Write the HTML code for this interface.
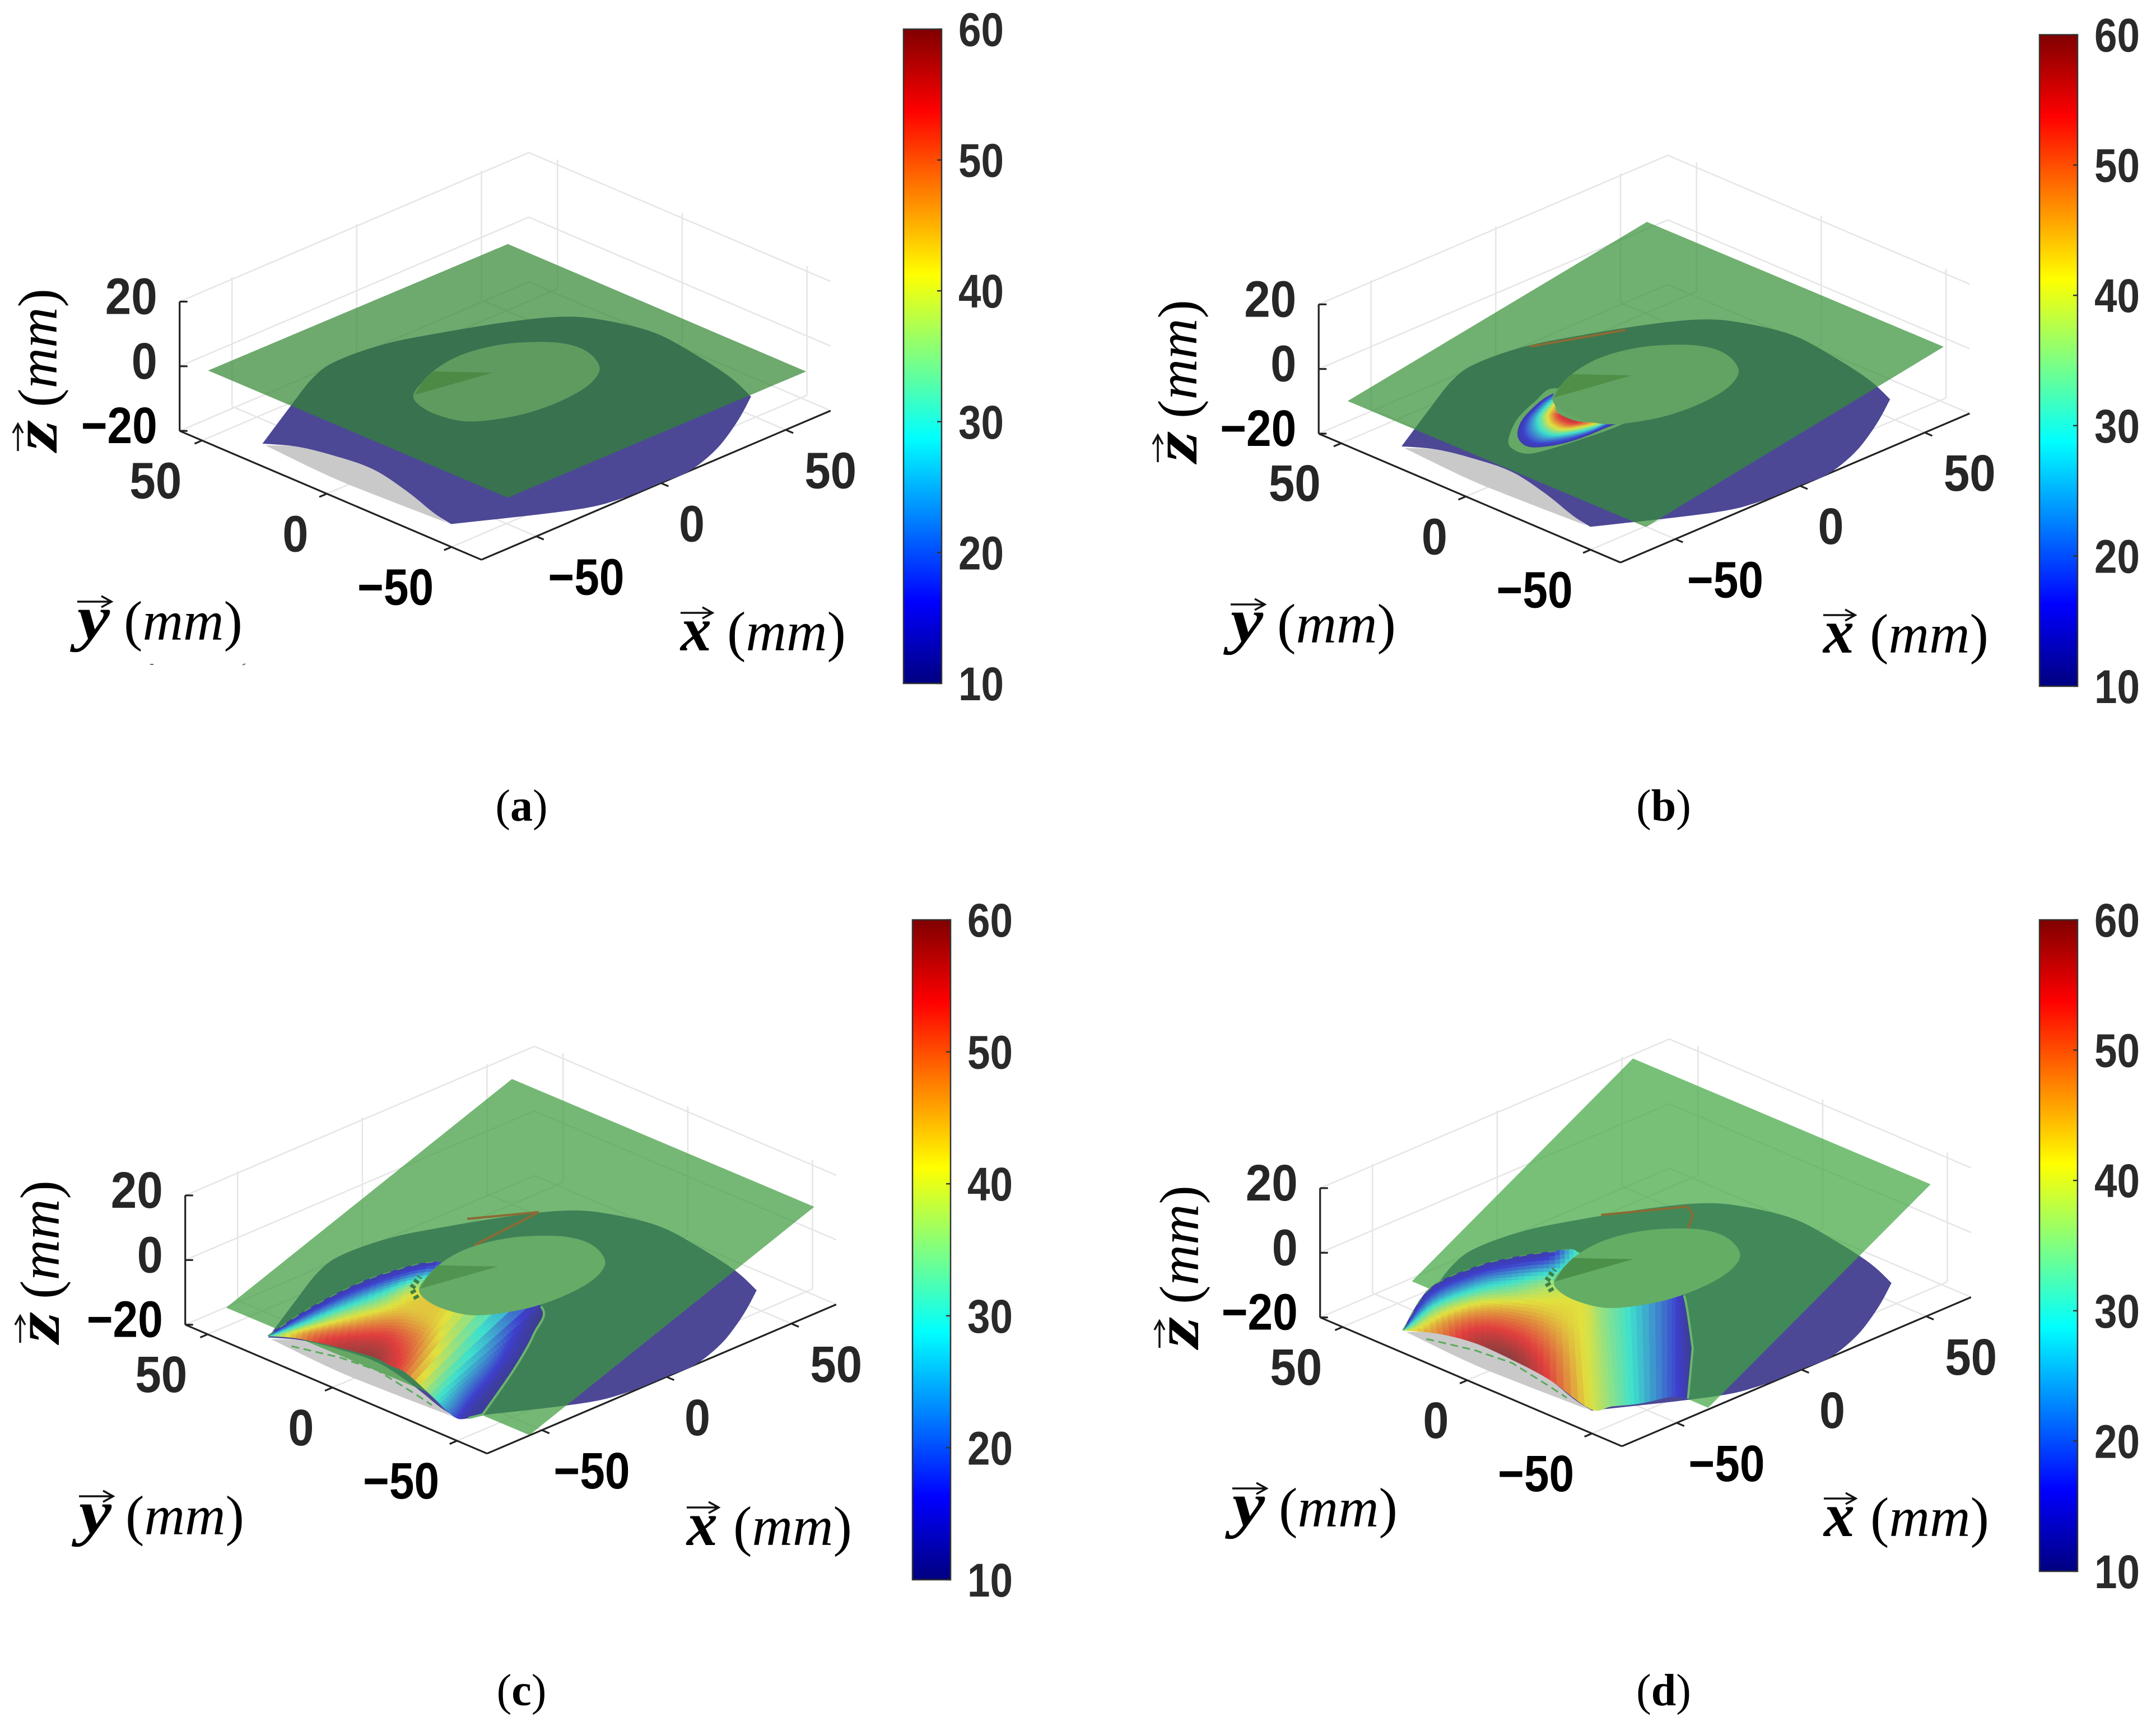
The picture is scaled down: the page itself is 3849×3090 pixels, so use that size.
<!DOCTYPE html>
<html lang="en">
<head>
<meta charset="utf-8">
<title>Temperature field on lens surface, panels a to d</title>
<style>
html,body{margin:0;padding:0;background:#fff}
svg{display:block}
.math{font-family:"Liberation Serif",serif}
</style>
</head>
<body>
<svg id="figure" xmlns="http://www.w3.org/2000/svg" width="3849" height="3090" viewBox="0 0 3849 3090">
<defs><linearGradient id="jetBar" x1="0" y1="1" x2="0" y2="0"></linearGradient></defs>
<rect x="0" y="0" width="3849" height="3090" fill="#fff"/>
<g id="plots"></g>

<g class="math">
  <g transform="translate(0,0)">
    <path d="M138 1074H197M181 1064L199 1074L181 1084" fill="none" stroke="#111" stroke-width="3.5"/>
    <text x="138" y="1140" font-size="112" font-weight="bold" font-style="italic" textLength="58" lengthAdjust="spacingAndGlyphs">y</text>
    <text x="221" y="1142" font-size="100" textLength="212" lengthAdjust="spacingAndGlyphs">(<tspan font-style="italic">mm</tspan>)</text>
    <path d="M268 1186h6M433 1187l5-2" fill="none" stroke="#666" stroke-width="2"/>
  </g>
  <g transform="translate(0,0)">
    <path d="M1215 1094H1270M1254 1084L1272 1094L1254 1104" fill="none" stroke="#111" stroke-width="3.5"/>
    <text x="1215" y="1161" font-size="112" font-weight="bold" font-style="italic" textLength="55" lengthAdjust="spacingAndGlyphs">x</text>
    <text x="1298" y="1161" font-size="100" textLength="212" lengthAdjust="spacingAndGlyphs">(<tspan font-style="italic">mm</tspan>)</text>
  </g>
  <g transform="translate(101,805) rotate(-90)">
    <path d="M0 -69H46M32 -78L48 -69L32 -60" fill="none" stroke="#111" stroke-width="3.5"/>
    <text x="0" y="0" font-size="112" font-weight="bold" font-style="italic" textLength="55" lengthAdjust="spacingAndGlyphs">z</text>
    <text x="78" y="0" font-size="100" textLength="212" lengthAdjust="spacingAndGlyphs">(<tspan font-style="italic">mm</tspan>)</text>
  </g>
  <text x="931" y="1465" font-size="80" text-anchor="middle">(<tspan font-weight="bold">a</tspan>)</text>
</g>

<g class="math">
  <g transform="translate(2059,5)">
    <path d="M138 1074H197M181 1064L199 1074L181 1084" fill="none" stroke="#111" stroke-width="3.5"/>
    <text x="138" y="1140" font-size="112" font-weight="bold" font-style="italic" textLength="58" lengthAdjust="spacingAndGlyphs">y</text>
    <text x="221" y="1142" font-size="100" textLength="212" lengthAdjust="spacingAndGlyphs">(<tspan font-style="italic">mm</tspan>)</text>
  </g>
  <g transform="translate(2040,4)">
    <path d="M1215 1094H1270M1254 1084L1272 1094L1254 1104" fill="none" stroke="#111" stroke-width="3.5"/>
    <text x="1215" y="1161" font-size="112" font-weight="bold" font-style="italic" textLength="55" lengthAdjust="spacingAndGlyphs">x</text>
    <text x="1298" y="1161" font-size="100" textLength="212" lengthAdjust="spacingAndGlyphs">(<tspan font-style="italic">mm</tspan>)</text>
  </g>
  <g transform="translate(2136,825) rotate(-90)">
    <path d="M0 -69H46M32 -78L48 -69L32 -60" fill="none" stroke="#111" stroke-width="3.5"/>
    <text x="0" y="0" font-size="112" font-weight="bold" font-style="italic" textLength="55" lengthAdjust="spacingAndGlyphs">z</text>
    <text x="78" y="0" font-size="100" textLength="212" lengthAdjust="spacingAndGlyphs">(<tspan font-style="italic">mm</tspan>)</text>
  </g>
  <text x="2970" y="1465" font-size="80" text-anchor="middle">(<tspan font-weight="bold">b</tspan>)</text>
</g>

<g class="math">
  <g transform="translate(3,1597)">
    <path d="M138 1074H197M181 1064L199 1074L181 1084" fill="none" stroke="#111" stroke-width="3.5"/>
    <text x="138" y="1140" font-size="112" font-weight="bold" font-style="italic" textLength="58" lengthAdjust="spacingAndGlyphs">y</text>
    <text x="221" y="1142" font-size="100" textLength="212" lengthAdjust="spacingAndGlyphs">(<tspan font-style="italic">mm</tspan>)</text>
  </g>
  <g transform="translate(11,1597)">
    <path d="M1215 1094H1270M1254 1084L1272 1094L1254 1104" fill="none" stroke="#111" stroke-width="3.5"/>
    <text x="1215" y="1161" font-size="112" font-weight="bold" font-style="italic" textLength="55" lengthAdjust="spacingAndGlyphs">x</text>
    <text x="1298" y="1161" font-size="100" textLength="212" lengthAdjust="spacingAndGlyphs">(<tspan font-style="italic">mm</tspan>)</text>
  </g>
  <g transform="translate(105,2397) rotate(-90)">
    <path d="M0 -69H46M32 -78L48 -69L32 -60" fill="none" stroke="#111" stroke-width="3.5"/>
    <text x="0" y="0" font-size="112" font-weight="bold" font-style="italic" textLength="55" lengthAdjust="spacingAndGlyphs">z</text>
    <text x="78" y="0" font-size="100" textLength="212" lengthAdjust="spacingAndGlyphs">(<tspan font-style="italic">mm</tspan>)</text>
  </g>
  <text x="931" y="3044" font-size="80" text-anchor="middle">(<tspan font-weight="bold">c</tspan>)</text>
</g>

<g class="math">
  <g transform="translate(2062,1583)">
    <path d="M138 1074H197M181 1064L199 1074L181 1084" fill="none" stroke="#111" stroke-width="3.5"/>
    <text x="138" y="1140" font-size="112" font-weight="bold" font-style="italic" textLength="58" lengthAdjust="spacingAndGlyphs">y</text>
    <text x="221" y="1142" font-size="100" textLength="212" lengthAdjust="spacingAndGlyphs">(<tspan font-style="italic">mm</tspan>)</text>
  </g>
  <g transform="translate(2041,1581)">
    <path d="M1215 1094H1270M1254 1084L1272 1094L1254 1104" fill="none" stroke="#111" stroke-width="3.5"/>
    <text x="1215" y="1161" font-size="112" font-weight="bold" font-style="italic" textLength="55" lengthAdjust="spacingAndGlyphs">x</text>
    <text x="1298" y="1161" font-size="100" textLength="212" lengthAdjust="spacingAndGlyphs">(<tspan font-style="italic">mm</tspan>)</text>
  </g>
  <g transform="translate(2139,2406) rotate(-90)">
    <path d="M0 -69H46M32 -78L48 -69L32 -60" fill="none" stroke="#111" stroke-width="3.5"/>
    <text x="0" y="0" font-size="112" font-weight="bold" font-style="italic" textLength="55" lengthAdjust="spacingAndGlyphs">z</text>
    <text x="78" y="0" font-size="100" textLength="212" lengthAdjust="spacingAndGlyphs">(<tspan font-style="italic">mm</tspan>)</text>
  </g>
  <text x="2970" y="3044" font-size="80" text-anchor="middle">(<tspan font-weight="bold">d</tspan>)</text>
</g>
</svg>

<script>
/* Axis values */
const xTicks = [-50, 0, 50];
const yTicks = [-50, 0, 50];
const zTicks = [-20, 0, 20];
const colorTicks = [10, 20, 30, 40, 50, 60];
const xRange = [-72, 68];
const yRange = [-62, 59];
const zRange = [-20, 20];
const colorRange = [10, 60];

/* Lens surface footprint, mm (shared by all panels) */
const surfaceX = [-61.4,-39.1,-19.9,-7.3,10.2,26.5,45.5,58.9,65.3,69.3,67.2,63.6,58.7,44.2,27,11.1,0.4,-15.8,-30.6,-61.3,-59.6,-54.7,-51.2,-52.9,-56];
const surfaceY = [36.4,47.9,57.4,60.4,58.6,52.7,44.1,35.4,25.3,9.9,-8.8,-26.1,-39.4,-48.4,-57.2,-62.1,-61.8,-61.3,-56.9,-39.2,-30.6,-14.6,2.7,17.5,28.4];
const surfaceCorners = [0, 12, 19];
const shadowX = [-61.6,-63.3,-62.7,-61.5,-59.6,-54.7,-51.2,-52.9,-56];
const shadowY = [35,7.1,-14.4,-38,-30.6,-14.6,2.7,17.5,28.4];
const shadowCorners = [0, 3];
const seamX = [-60.8,-56.4,-54.9,-58.4,-60.3];
const seamY = [27.6,12.7,-0.9,-19.5,-28.2];

/* Small central cap and its wedge, mm */
const capX = [-8.2,-0.9,7.4,17.5,27.5,37,45.3,47.1,42.6,35,24.8,12,0.7,-9.7,-12.8,-11.8];
const capY = [29.1,33.1,36.4,38.2,37.1,32.8,24.5,15.4,5.3,-0.1,-2.9,-3.2,-0.7,5.5,14.9,23.3];
const wedgeX = [18.1,6.6,-0.9,-8];
const wedgeY = [23.6,36.2,33.1,28.8];

/* Tilted green plane corners per panel, mm */
const planeXa = [60.3,60.1,-59.7,-59.8];
const planeYa = [59.7,-60.1,-60.3,59.8];
const planeZa = [-6,-5.9,-5.4,-5.6];
const planeXb = [60.3,59.8,-59.9,-59.7];
const planeYb = [59.7,-59.8,-60.1,59.7];
const planeZb = [1.7,2.6,-13.6,-14.2];
const planeXc = [60,60.6,-56.5,-57.3];
const planeYc = [60,-60.6,-63.5,57.3];
const planeZc = [12.2,12.2,-18.9,-19];
const planeXd = [57.2,56.9,-47.7,-47.1];
const planeYd = [62.8,-56.9,-72.3,47.1];
const planeZd = [16.3,16.9,-12.7,-13.1];

/* Brown intersection trace, mm */
const traceXb = [11.2,38.2];
const traceYb = [57.6,46.2];
const traceXc = [34.2,51.7,23.1];
const traceYc = [52.2,41,38.3];
const traceXd = [32.5,53.7,50.9,42.5];
const traceYd = [50.8,37.4,32.4,26.2];

/* Panel b heat crescent, mm and degrees C */
const haloXb = [-3.2,-13.7,-26,-37.4,-40.4,-39.3,-31.8,-21.3,-11.9,-2.9,-3];
const haloYb = [32.9,30.7,25.7,17.6,12.3,7.4,5.2,3.6,2.6,2.6,16];
const heatLowXb = [-6.3,-12.6,-23.8,-31.8,-35.5,-35.3,-28.8,-20.5,-11.5,-5.3];
const heatLowYb = [30.7,29.6,25.1,19.4,14.1,9.7,5.9,4.4,4.3,3.9];
const heatUpXb = [-6.3,-10.5,-14.1,-14.7,-14.9,-14.5,-12.4,-10.2,-7.2,-5.3];
const heatUpYb = [30.7,26,21.7,19.6,17.2,13,9.5,7.2,5.8,3.9];
const heatTb = [
  [13,13,13,13,13],
  [13,18,24,30,38],
  [13,20,29,40,48],
  [13,20,29,42,54],
  [13,20,30,44,56],
  [13,20,30,44,56],
  [13,18,26,36,46],
  [13,16,22,28,36],
  [13,14,15,17,20],
  [13,13,13,13,13]
];

/* Panel c heat patch, mm and degrees C */
const heatLowXc = [-60.6,-56,-52.5,-49.4,-49.9,-50.3,-56.5,-60.2,-61.3,-59];
const heatLowYc = [37.2,30.5,20.2,6.7,-0.7,-8,-25.3,-34.6,-39.7,-41.6];
const heatUpXc = [-60.6,-42.4,-23.7,-7.6,8,9.2,7.9,-6.5,-27.6,-54.6];
const heatUpYc = [37.2,41.3,43.5,43,37.8,21,-3.7,-15.3,-28.2,-42.8];
const heatTc = [
  [30,28,24,18,13],
  [46,42,30,20,13],
  [56,50,38,24,13],
  [59,54,44,30,13],
  [56,52,44,40,15],
  [50,46,41,40,38],
  [31,27,23,17,12],
  [22,19,17,14,12],
  [16,14,13,12,12],
  [12,12,12,12,12]
];

/* Panel d heat patch, mm and degrees C */
const heatLowXd = [-61.4,-55.9,-52.9,-53.3,-55.2,-60.7,-55.2,-48.3,-38.6,-36.5,-36.5];
const heatLowYd = [36.4,27.9,16.1,0.6,-16.4,-38.2,-41.1,-45.4,-48.7,-53,-53];
const heatUpXd = [-61.4,-36.4,-17.4,-5.4,4.8,10.4,-1.9,7.5,12.2,11.4,-11.6];
const heatUpYd = [36.4,50.6,51.6,48.6,43.7,38,16.1,12,2,-3.5,-30];
const heatTd = [
  [40,34,28,20,13],
  [48,44,35,22,13],
  [57,52,42,26,13],
  [60,54,45,30,13],
  [53,50,44,36,14],
  [41,41,41,40,30],
  [35,35,35,35,35],
  [27,27,27,27,27],
  [18,18,18,18,18],
  [13,13,13,13,13],
  [12,12,12,12,12]
];

const NS = 'http://www.w3.org/2000/svg';
const root = document.getElementById('plots');

function node(tag, attrs, parent) {
  const e = document.createElementNS(NS, tag);
  for (const k in attrs) e.setAttribute(k, attrs[k]);
  parent.appendChild(e);
  return e;
}
function clamp01(v) { return Math.max(0, Math.min(1, v)); }
function jet(T) {
  const t = clamp01((T - colorRange[0]) / (colorRange[1] - colorRange[0]));
  return [clamp01(1.5 - Math.abs(4 * t - 3)), clamp01(1.5 - Math.abs(4 * t - 2)), clamp01(1.5 - Math.abs(4 * t - 1))];
}
function jetCss(T) {
  const c = jet(T);
  return 'rgb(' + Math.round(c[0] * 255) + ',' + Math.round(c[1] * 255) + ',' + Math.round(c[2] * 255) + ')';
}
function litCss(T) {
  const c = jet(T);
  return 'rgb(' + Math.round(62 + c[0] * 163) + ',' + Math.round(62 + c[1] * 163) + ',' + Math.round(62 + c[2] * 143) + ')';
}
function spline(p0, p1, p2, p3, t) {
  return 0.5 * (2 * p1 + (p2 - p0) * t + (2 * p0 - 5 * p1 + 4 * p2 - p3) * t * t + (3 * p1 - p0 - 3 * p2 + p3) * t * t * t);
}
function sample(a, s) {
  const n = a.length, i = Math.min(Math.floor(s), n - 2), f = s - i;
  return spline(a[Math.max(i - 1, 0)], a[i], a[i + 1], a[Math.min(i + 2, n - 1)], f);
}
function smoothLoop(xs, ys, corners) {
  const N = xs.length, outX = [], outY = [], steps = 6;
  for (let i = 0; i < N; i++) {
    const b = i, c = (i + 1) % N;
    const a = corners.includes(b) ? b : (i - 1 + N) % N;
    const d = corners.includes(c) ? c : (i + 2) % N;
    for (let k = 0; k < steps; k++) {
      outX.push(spline(xs[a], xs[b], xs[c], xs[d], k / steps));
      outY.push(spline(ys[a], ys[b], ys[c], ys[d], k / steps));
    }
  }
  return { x: outX, y: outY };
}

/* Colour bar gradient */
const gradient = document.getElementById('jetBar');
for (let i = 0; i <= 32; i++) {
  const T = colorRange[0] + (colorRange[1] - colorRange[0]) * i / 32;
  node('stop', { offset: (i / 32), 'stop-color': jetCss(T) }, gradient);
}

function drawPanel(cfg) {
  const g = node('g', {}, root);
  
  

  /* axis functions: mm to pixels */
  const px = (x, y) => cfg.ox + 4.4526 * (x - y);
  const py = (x, y, z) => cfg.oy - 1.9008 * (x + y) - 5.77 * (z - zRange[0]);
  const zf = zRange[0];
  const pts = (xs, ys, zs) => xs.map((x, i) => px(x, ys[i]).toFixed(1) + ',' + py(x, ys[i], zs ? zs[i] : zf).toFixed(1)).join(' ');
  const xWall = xRange[1] + 2.5, yWall = yRange[1] + 1;

  const gridGroup = node('g', { stroke: '#e6e6e6', 'stroke-width': 2.6, fill: 'none' }, g);
  
  
  const seg = (parent, x1, y1, z1, x2, y2, z2) => node('line', { x1: px(x1, y1), y1: py(x1, y1, z1), x2: px(x2, y2), y2: py(x2, y2, z2) }, parent);
  zTicks.forEach(z => {
    seg(gridGroup, xRange[0], yRange[1], z, xRange[1], yRange[1], z);
    seg(gridGroup, xRange[1], yRange[1], z, xRange[1], yRange[0], z);
  });
  xTicks.forEach(x => {
    seg(gridGroup, x, yWall, zRange[0], x, yWall, zRange[1]);
    seg(gridGroup, x, yRange[0], zRange[0], x, yWall, zRange[0]);
  });
  yTicks.forEach(y => {
    seg(gridGroup, xWall, y, zRange[0], xWall, y, zRange[1]);
    seg(gridGroup, xRange[0], y, zRange[0], xWall, y, zRange[0]);
  });

  const axisGroup = node('g', { stroke: '#222', 'stroke-width': 3.2, fill: 'none' }, g);
  
  
  seg(axisGroup, xRange[0], yRange[0], zRange[0], xRange[1], yRange[0], zRange[0]);
  seg(axisGroup, xRange[0], yRange[0], zRange[0], xRange[0], yRange[1], zRange[0]);
  seg(axisGroup, xRange[0], yRange[1], zRange[0], xRange[0], yRange[1], zRange[1]);
  xTicks.forEach(x => seg(axisGroup, x, yRange[0], zRange[0], x, yRange[0] - 3, zRange[0]));
  yTicks.forEach(y => seg(axisGroup, xRange[0], y, zRange[0], xRange[0] - 3, y, zRange[0]));
  zTicks.forEach(z => node('line', { x1: px(xRange[0], yRange[1]), y1: py(xRange[0], yRange[1], z), x2: px(xRange[0], yRange[1]) + 14, y2: py(xRange[0], yRange[1], z) }, axisGroup));

  /* tick labels */
  const widths = { 1: 46, 2: 93, 3: 136 };
  const label = (x, y, str, anchor, name) => {
    const t = node('text', { x: x, y: y, 'font-family': '"Liberation Sans",sans-serif', 'font-weight': 'bold', 'font-size': 92, fill: str.length === 3 ? '#000' : '#262626', 'text-anchor': anchor, textLength: widths[str.length], lengthAdjust: 'spacingAndGlyphs' }, g);
    t.textContent = str;
    
    
  };
  const fmt = v => (v < 0 ? '\u2212' + (-v) : String(v));
  const xOff = { 1: 55, 2: 80, 3: 89 };
  const yOff = { 1: -56, 2: -83, 3: -100 };
  xTicks.forEach(v => label(px(v, yRange[0]) + xOff[fmt(v).length], py(v, yRange[0], zf) + 104, fmt(v), 'middle', 'x-tick-label'));
  yTicks.forEach(v => label(px(xRange[0], v) + yOff[fmt(v).length], py(xRange[0], v, zf) + 103, fmt(v), 'middle', 'y-tick-label'));
  zTicks.forEach(v => label(px(xRange[0], yRange[1]) - 40, py(xRange[0], yRange[1], v) + 22, fmt(v), 'end', 'z-tick-label'));

  /* surfaces */
  const shadowLine = smoothLoop(shadowX, shadowY, shadowCorners);
  const shadow = node('polygon', { points: pts(shadowLine.x, shadowLine.y), fill: '#c9c9c9' }, g);
  
  
  const surfaceLine = smoothLoop(surfaceX, surfaceY, surfaceCorners);
  const surface = node('polygon', { points: pts(surfaceLine.x, surfaceLine.y), fill: '#4c4896' }, g);
  
  
  const plane = node('polygon', { points: pts(cfg.planeX, cfg.planeY, cfg.planeZ), fill: cfg.planeFill, 'fill-opacity': 0.7 }, g);
  
  

  if (cfg.traceX) {
    const trace = node('polyline', { points: pts(cfg.traceX, cfg.traceY), fill: 'none', stroke: '#8c6a34', 'stroke-width': 4 }, g);
    
    
  }

  /* heat patch */
  if (cfg.haloX) {
    const haloLine = smoothLoop(cfg.haloX, cfg.haloY, [9, 10]);
    const halo = node('polygon', { points: pts(haloLine.x, haloLine.y), fill: '#66a866' }, g);
    
    
  }
  if (cfg.heatT) {
    const heat = node('g', {}, g);
    
    
    const rows = cfg.heatT.length, cols = cfg.heatT[0].length;
    const subS = cfg.subS, subT = 8;
    const nodeAt = (s, t) => {
      const i = Math.min(Math.floor(s), rows - 2), fs = s - i;
      const fr = t / (cols - 1);
      const lx = sample(cfg.lowX, s), ly = sample(cfg.lowY, s);
      const ux = sample(cfg.upX, s), uy = sample(cfg.upY, s);
      const rowAt = r => sample(cfg.heatT[r], t);
      const T = spline(rowAt(Math.max(i - 1, 0)), rowAt(i), rowAt(i + 1), rowAt(Math.min(i + 2, rows - 1)), fs);
      return { x: lx + (ux - lx) * fr, y: ly + (uy - ly) * fr, T: T };
    };
    for (let a = 0; a < (rows - 1) * subS; a++) {
      for (let b = 0; b < (cols - 1) * subT; b++) {
        const n = [nodeAt(a / subS, b / subT), nodeAt((a + 1) / subS, b / subT), nodeAt((a + 1) / subS, (b + 1) / subT), nodeAt(a / subS, (b + 1) / subT)];
        const Tm = (n[0].T + n[1].T + n[2].T + n[3].T) / 4;
        const col = litCss(Tm);
        const cell = node('polygon', { points: n.map(p => px(p.x, p.y).toFixed(1) + ',' + py(p.x, p.y, zf).toFixed(1)).join(' '), fill: col, stroke: col, 'stroke-width': 1.2 }, heat);
        
        
      }
    }
  }
  if (cfg.rimFrom !== undefined) {
    const rowsN = cfg.upX.length;
    const rimX = [], rimY = [], topX = [], topY = [];
    for (let s = cfg.rimFrom; s <= rowsN - 1 + 1e-6; s += 0.1) {
      rimX.push(sample(cfg.upX, s));
      rimY.push(sample(cfg.upY, s));
    }
    rimX.push(cfg.lowX[rowsN - 1]);
    rimY.push(cfg.lowY[rowsN - 1]);
    for (let s = 0; s <= cfg.topTo + 1e-6; s += 0.1) {
      topX.push(sample(cfg.upX, s));
      topY.push(sample(cfg.upY, s));
    }
    const rim = node('polyline', { points: pts(rimX, rimY), fill: 'none', stroke: '#6db56d', 'stroke-width': 4 }, g);
    
    
    const top = node('polyline', { points: pts(topX, topY), fill: 'none', stroke: '#559c5e', 'stroke-width': 2, 'stroke-dasharray': '14 12' }, g);
    
    
    const seam = node('polyline', { points: pts(seamX, seamY), fill: 'none', stroke: '#5cab5c', 'stroke-width': 3, 'stroke-dasharray': '14 8' }, g);
    
    
  }

  /* cap */
  const capLine = smoothLoop(capX, capY, []);
  if (cfg.rimFrom !== undefined) {
    const hatchX = [capX[15] - 1.5, capX[0] - 1.5, capX[1] - 1.5];
    const hatchY = [capY[15] + 1.5, capY[0] + 1.5, capY[1] + 1.5];
    const hatch = node('polyline', { points: pts(hatchX, hatchY), fill: 'none', stroke: '#3f8046', 'stroke-width': 10, 'stroke-dasharray': '6 5' }, g);
    
    
  }
  const cap = node('polygon', { points: pts(capLine.x, capLine.y), fill: cfg.capFill }, g);
  
  
  const wedge = node('polygon', { points: pts(wedgeX, wedgeY), fill: cfg.wedgeFill }, g);
  
  

  /* colour bar */
  const bar = cfg.bar;
  const barY = v => bar.bottom - (v - colorRange[0]) / (colorRange[1] - colorRange[0]) * (bar.bottom - bar.top);
  const cb = node('g', {}, g);
  
  
  const ramp = node('rect', { x: bar.x, y: bar.top, width: 68, height: bar.bottom - bar.top, fill: 'url(#jetBar)', stroke: '#333', 'stroke-width': 2.5 }, cb);
  
  
  colorTicks.forEach(v => {
    const tk = node('line', { x1: bar.x + 60, y1: barY(v), x2: bar.x + 68, y2: barY(v), stroke: '#333', 'stroke-width': 2.5 }, cb);
    
    
    const t = node('text', { x: bar.x + 98, y: barY(v) + 30, 'font-family': '"Liberation Sans",sans-serif', 'font-weight': 'bold', 'font-size': 84, fill: '#2a2a2a', textLength: 81, lengthAdjust: 'spacingAndGlyphs' }, cb);
    t.textContent = String(v);
    
    
  });
}

drawPanel({ key: 'a', ox: 904, oy: 744.5, planeX: planeXa, planeY: planeYa, planeZ: planeZa, planeFill: 'rgb(48,132,48)', capFill: '#5f9a5f', wedgeFill: '#4d8a45', bar: { x: 1613, top: 52, bottom: 1220 } });
drawPanel({ key: 'b', ox: 2937.5, oy: 749.4, planeX: planeXb, planeY: planeYb, planeZ: planeZb, planeFill: 'rgb(51,142,51)', capFill: '#62a262', wedgeFill: '#4f8f47', traceX: traceXb, traceY: traceYb, haloX: haloXb, haloY: haloYb, lowX: heatLowXb, lowY: heatLowYb, upX: heatUpXb, upY: heatUpYb, heatT: heatTb, subS: 4, bar: { x: 3641, top: 62, bottom: 1225 } });
drawPanel({ key: 'c', ox: 914, oy: 2340, planeX: planeXc, planeY: planeYc, planeZ: planeZc, planeFill: 'rgb(58,154,58)', capFill: '#66ab66', wedgeFill: '#50944f', traceX: traceXc, traceY: traceYc, lowX: heatLowXc, lowY: heatLowYc, upX: heatUpXc, upY: heatUpYc, heatT: heatTc, subS: 6, rimFrom: 6, topTo: 4, bar: { x: 1629, top: 1642, bottom: 2820 } });
drawPanel({ key: 'd', ox: 2940, oy: 2327, planeX: planeXd, planeY: planeYd, planeZ: planeZd, planeFill: 'rgb(62,165,62)', capFill: '#64ad64', wedgeFill: '#4a8f4a', traceX: traceXd, traceY: traceYd, lowX: heatLowXd, lowY: heatLowYd, upX: heatUpXd, upY: heatUpYd, heatT: heatTd, subS: 6, rimFrom: 9, topTo: 5, bar: { x: 3641, top: 1642, bottom: 2805 } });
</script>
</body>
</html>
